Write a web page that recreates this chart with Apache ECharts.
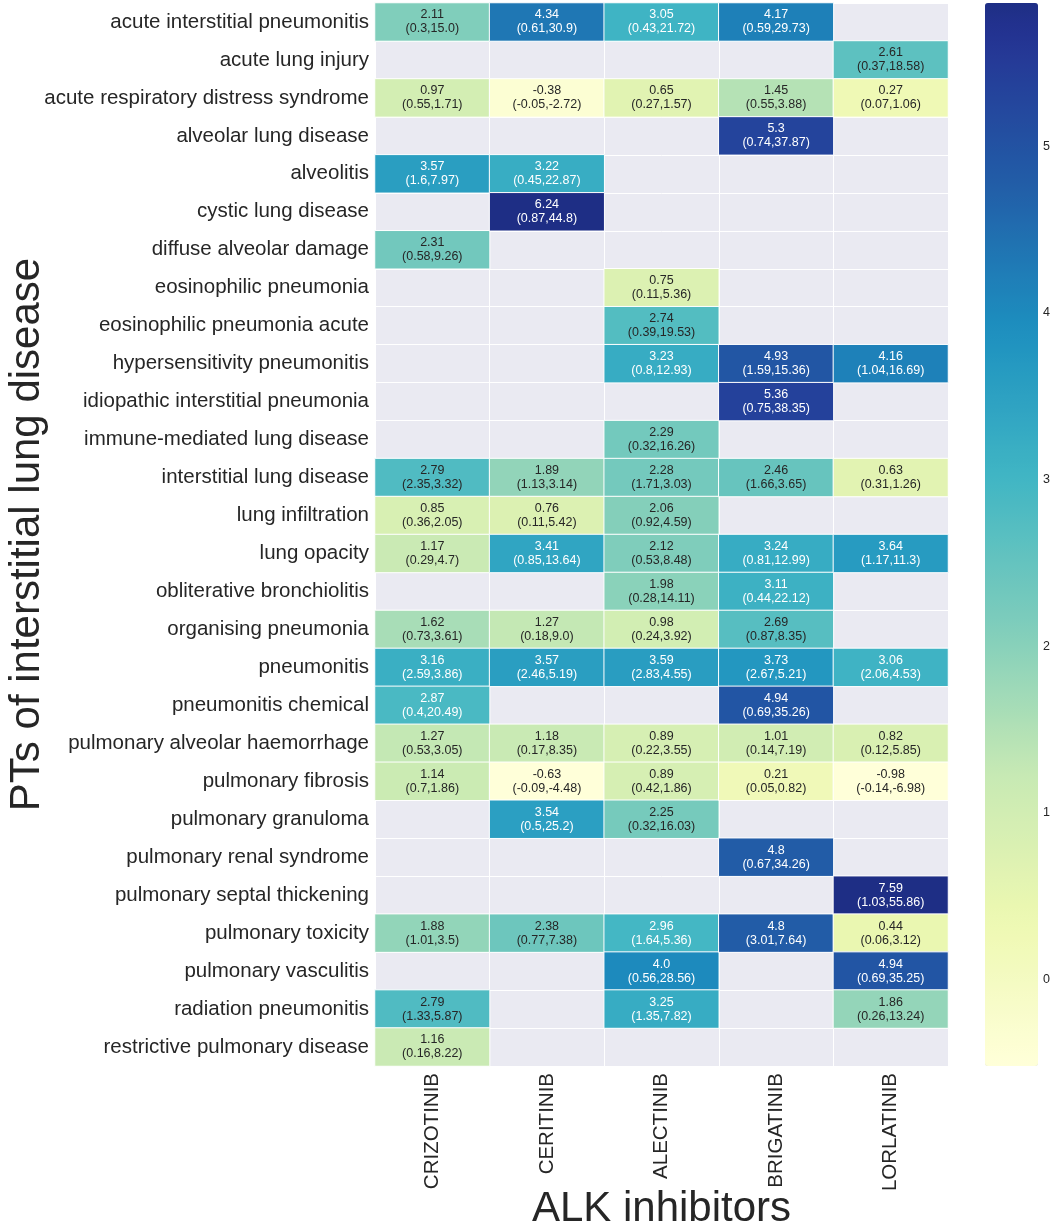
<!DOCTYPE html>
<html>
<head>
<meta charset="utf-8">
<script src="https://cdn.jsdelivr.net/npm/echarts@6/dist/echarts.min.js"></script>
<style>
  html, body { margin: 0; padding: 0; background: #fff; }
  #chart { width: 1052px; height: 1227px; }
</style>
</head>
<body>
<div id="chart"></div>
<script>
const ptNames = [
  'acute interstitial pneumonitis', 'acute lung injury', 'acute respiratory distress syndrome',
  'alveolar lung disease', 'alveolitis', 'cystic lung disease', 'diffuse alveolar damage',
  'eosinophilic pneumonia', 'eosinophilic pneumonia acute', 'hypersensitivity pneumonitis',
  'idiopathic interstitial pneumonia', 'immune-mediated lung disease', 'interstitial lung disease',
  'lung infiltration', 'lung opacity', 'obliterative bronchiolitis', 'organising pneumonia',
  'pneumonitis', 'pneumonitis chemical', 'pulmonary alveolar haemorrhage', 'pulmonary fibrosis',
  'pulmonary granuloma', 'pulmonary renal syndrome', 'pulmonary septal thickening',
  'pulmonary toxicity', 'pulmonary vasculitis', 'radiation pneumonitis', 'restrictive pulmonary disease'
];
const drugs = ['CRIZOTINIB', 'CERITINIB', 'ALECTINIB', 'BRIGATINIB', 'LORLATINIB'];

// [value, lower, upper] per PT, null = no report
const crizotinib = [
  [2.11, 0.3, 15.0], null, [0.97, 0.55, 1.71], null, [3.57, 1.6, 7.97], null, [2.31, 0.58, 9.26],
  null, null, null, null, null, [2.79, 2.35, 3.32], [0.85, 0.36, 2.05], [1.17, 0.29, 4.7], null,
  [1.62, 0.73, 3.61], [3.16, 2.59, 3.86], [2.87, 0.4, 20.49], [1.27, 0.53, 3.05], [1.14, 0.7, 1.86],
  null, null, null, [1.88, 1.01, 3.5], null, [2.79, 1.33, 5.87], [1.16, 0.16, 8.22]
];
const ceritinib = [
  [4.34, 0.61, 30.9], null, [-0.38, -0.05, -2.72], null, [3.22, 0.45, 22.87], [6.24, 0.87, 44.8], null,
  null, null, null, null, null, [1.89, 1.13, 3.14], [0.76, 0.11, 5.42], [3.41, 0.85, 13.64], null,
  [1.27, 0.18, 9.0], [3.57, 2.46, 5.19], null, [1.18, 0.17, 8.35], [-0.63, -0.09, -4.48],
  [3.54, 0.5, 25.2], null, null, [2.38, 0.77, 7.38], null, null, null
];
const alectinib = [
  [3.05, 0.43, 21.72], null, [0.65, 0.27, 1.57], null, null, null, null,
  [0.75, 0.11, 5.36], [2.74, 0.39, 19.53], [3.23, 0.8, 12.93], null, [2.29, 0.32, 16.26],
  [2.28, 1.71, 3.03], [2.06, 0.92, 4.59], [2.12, 0.53, 8.48], [1.98, 0.28, 14.11],
  [0.98, 0.24, 3.92], [3.59, 2.83, 4.55], null, [0.89, 0.22, 3.55], [0.89, 0.42, 1.86],
  [2.25, 0.32, 16.03], null, null, [2.96, 1.64, 5.36], [4.0, 0.56, 28.56], [3.25, 1.35, 7.82], null
];
const brigatinib = [
  [4.17, 0.59, 29.73], null, [1.45, 0.55, 3.88], [5.3, 0.74, 37.87], null, null, null,
  null, null, [4.93, 1.59, 15.36], [5.36, 0.75, 38.35], null, [2.46, 1.66, 3.65], null,
  [3.24, 0.81, 12.99], [3.11, 0.44, 22.12], [2.69, 0.87, 8.35], [3.73, 2.67, 5.21],
  [4.94, 0.69, 35.26], [1.01, 0.14, 7.19], [0.21, 0.05, 0.82], null, [4.8, 0.67, 34.26], null,
  [4.8, 3.01, 7.64], null, null, null
];
const lorlatinib = [
  null, [2.61, 0.37, 18.58], [0.27, 0.07, 1.06], null, null, null, null,
  null, null, [4.16, 1.04, 16.69], null, null, [0.63, 0.31, 1.26], null,
  [3.64, 1.17, 11.3], null, null, [3.06, 2.06, 4.53], null, [0.82, 0.12, 5.85],
  [-0.98, -0.14, -6.98], null, null, [7.59, 1.03, 55.86], [0.44, 0.06, 3.12],
  [4.94, 0.69, 35.25], [1.86, 0.26, 13.24], null
];
const colorbarTicks = [0, 1, 2, 3, 4, 5];

const FONT = "'Liberation Sans', Arial, sans-serif";
const TEXT = '#262626';

// YlGnBu, only the part of it that the centred colour scale uses
const ylgnbu = ['#ffffd9', '#edf8b1', '#c7e9b4', '#7fcdbb', '#41b6c4', '#1d91c0', '#225ea8', '#253494', '#081d58'];
const cmapTop = 0.906;
const sampleCmap = (t) => {
  const p = t * (ylgnbu.length - 1);
  const i = Math.min(Math.floor(p), ylgnbu.length - 2);
  const f = p - i;
  const a = echarts.color.parse(ylgnbu[i]);
  const b = echarts.color.parse(ylgnbu[i + 1]);
  const c = [0, 1, 2].map((k) => Math.round(a[k] + (b[k] - a[k]) * f));
  return `rgb(${c[0]},${c[1]},${c[2]})`;
};
const rampColors = [];
for (let i = 0; i <= 40; i++) rampColors.push(sampleCmap((cmapTop * i) / 40));

// python-like str() of a float: 15.0 stays "15.0"
const pyStr = (v) => (Number.isInteger(v) ? v.toFixed(1) : String(v));

const columns = [crizotinib, ceritinib, alectinib, brigatinib, lorlatinib];
const cells = [];
columns.forEach((col, x) => {
  col.forEach((d, y) => {
    if (!d) return;
    cells.push({
      value: [x, y, d[0], d[1], d[2]],
      label: { color: d[0] > 2.83 ? '#ffffff' : TEXT },
    });
  });
});

const chart = echarts.init(document.getElementById('chart'));
chart.setOption({
  animation: false,
  textStyle: { fontFamily: FONT },
  grid: [
    {
      left: 375, top: 3, width: 573, height: 1063,
      outerBoundsMode: 'none', containLabel: false,
      show: true, backgroundColor: '#EAEAF2', borderWidth: 0,
    },
    { left: 985, top: 3, width: 53, height: 1063, outerBoundsMode: 'none', containLabel: false, show: false },
  ],
  xAxis: [
    {
      type: 'category',
      data: drugs,
      gridIndex: 0,
      position: 'bottom',
      axisLine: { show: false },
      axisTick: { show: false },
      splitLine: { show: true, lineStyle: { color: '#ffffff', width: 1 } },
      axisLabel: { rotate: 90, fontSize: 20.5, color: TEXT, margin: 7, fontFamily: FONT },
      name: 'ALK inhibitors',
      nameLocation: 'middle',
      nameGap: 122,
      nameMoveOverlap: false,
      nameTextStyle: { fontSize: 42, color: TEXT, fontFamily: FONT, verticalAlign: 'top' },
    },
    { type: 'value', gridIndex: 1, show: false, min: 0, max: 1 },
  ],
  yAxis: [
    {
      type: 'category',
      data: ptNames,
      gridIndex: 0,
      inverse: true,
      axisLine: { show: false },
      axisTick: { show: false },
      splitLine: { show: true, lineStyle: { color: '#ffffff', width: 1 } },
      axisLabel: { fontSize: 20.5, color: TEXT, margin: 6, fontFamily: FONT },
      name: 'PTs of interstitial lung disease',
      nameLocation: 'middle',
      nameRotate: 90,
      nameGap: 327,
      nameMoveOverlap: false,
      nameTextStyle: { fontSize: 42, color: TEXT, fontFamily: FONT },
    },
    {
      type: 'value',
      gridIndex: 1,
      position: 'right',
      min: -0.52,
      max: 5.86,
      axisLine: { show: false },
      splitLine: { show: false },
      axisTick: { show: true, length: 4, customValues: colorbarTicks, lineStyle: { color: TEXT, width: 1 } },
      axisLabel: { fontSize: 12.5, color: TEXT, margin: 5, customValues: colorbarTicks, fontFamily: FONT },
    },
  ],
  visualMap: {
    type: 'continuous',
    seriesIndex: 0,
    dimension: 2,
    min: -0.52,
    max: 5.86,
    calculable: false,
    hoverLink: false,
    orient: 'vertical',
    left: 985,
    top: 3,
    padding: 0,
    itemWidth: 53,
    itemHeight: 1063,
    text: null,
    inRange: { color: rampColors },
  },
  series: [
    {
      type: 'heatmap',
      xAxisIndex: 0,
      yAxisIndex: 0,
      data: cells,
      itemStyle: { borderColor: '#ffffff', borderWidth: 1 },
      label: {
        show: true,
        fontSize: 12.5,
        lineHeight: 14,
        fontFamily: FONT,
        formatter: (p) => `${pyStr(p.value[2])}\n(${pyStr(p.value[3])},${pyStr(p.value[4])})`,
      },
      emphasis: { disabled: true },
    },
  ],
});
</script>
</body>
</html>
